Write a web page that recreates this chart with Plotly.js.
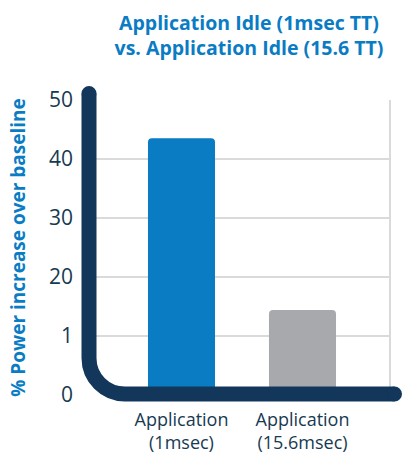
<!DOCTYPE html>
<html>
<head>
<meta charset="utf-8">
<script src="https://cdn.plot.ly/plotly-3.0.1.min.js"></script>
<style>
  html, body { margin: 0; padding: 0; background: #ffffff; }
  #chart { width: 402px; height: 455px; }
</style>
</head>
<body>
<div id="chart"></div>
<script>
// Power draw of an idle application at two timer tick settings
const categories = ['Application<br>(1msec)', 'Application<br>(15.6msec)'];
const powerIncrease = [43.5, 14.4];
const barColors = ['#0a7cc4', '#a7a9ac'];
const tickValues = [0, 10, 20, 30, 40, 50];
const tickLabels = ['0', '1', '20', '30', '40', '50'];

const W = 402, H = 455;
const M = { l: 90, r: 12, t: 100, b: 60 };
const plotW = W - M.l - M.r;
const plotH = H - M.t - M.b;

// pixel -> paper fraction helpers for the decorative axis frame
const fx = x => (x - M.l) / plotW;
const fy = y => (H - M.b - y) / plotH;

const navy = '#13365b';
const lw = 15;
const axX = 89, axY = 394, rad = 36;
const topY = 86 + lw / 2, rightX = 402 - lw / 2;
const k = 0.5523 * rad;

const framePath =
  'M ' + fx(axX) + ' ' + fy(topY) +
  ' L ' + fx(axX) + ' ' + fy(axY - rad) +
  ' C ' + fx(axX) + ' ' + fy(axY - rad + k) + ' ' +
          fx(axX + rad - k) + ' ' + fy(axY) + ' ' +
          fx(axX + rad) + ' ' + fy(axY) +
  ' L ' + fx(rightX) + ' ' + fy(axY);

function capCircle(cx, cy) {
  const r = lw / 2;
  return {
    type: 'circle', xref: 'paper', yref: 'paper',
    x0: fx(cx - r), x1: fx(cx + r), y0: fy(cy + r), y1: fy(cy - r),
    fillcolor: navy, line: { width: 0 }
  };
}

const trace = {
  type: 'bar',
  x: [0, 1],
  y: powerIncrease,
  width: 0.554,
  marker: { color: barColors, cornerradius: 4, line: { width: 0 } },
  hoverinfo: 'skip'
};

const layout = {
  width: W, height: H,
  margin: M,
  paper_bgcolor: '#ffffff',
  plot_bgcolor: '#ffffff',
  showlegend: false,
  font: { family: 'Open Sans, sans-serif', color: '#173a52' },
  title: {
    text: 'Application Idle (1msec TT)<br>vs. Application Idle (15.6 TT)',
    font: { family: 'Open Sans, sans-serif', size: 19.5, weight: 700, color: '#0a7cc4' },
    x: fx(249), xanchor: 'center', xref: 'paper',
    y: 1 - 30 / H, yanchor: 'middle', yref: 'container'
  },
  xaxis: {
    range: [-0.756, 1.723],
    tickvals: [0, 1],
    ticktext: categories,
    tickfont: { size: 18, color: '#173a52' },
    showgrid: false, zeroline: false, showline: false,
    ticks: '', ticklabelstandoff: 12,
    fixedrange: true
  },
  yaxis: {
    range: [0, 50],
    tickvals: tickValues,
    ticktext: tickLabels,
    tickfont: { size: 21, color: '#173a52' },
    showgrid: true, gridcolor: '#dadada', gridwidth: 2,
    zeroline: false, showline: false,
    ticks: '', ticklabelstandoff: 16,
    automargin: true,
    title: {
      text: '% Power increase over baseline',
      font: { size: 19, weight: 700, color: '#0a7cc4' },
      standoff: 18
    },
    fixedrange: true
  },
  shapes: [
    { type: 'line', xref: 'paper', yref: 'paper', x0: 1, x1: 1, y0: 0, y1: 1,
      line: { color: '#dadada', width: 2 }, layer: 'below' },
    { type: 'path', xref: 'paper', yref: 'paper', path: framePath,
      line: { color: navy, width: lw } },
    capCircle(axX, topY),
    capCircle(rightX, axY)
  ]
};

Plotly.newPlot('chart', [trace], layout, { displayModeBar: false, staticPlot: true });
</script>
</body>
</html>
